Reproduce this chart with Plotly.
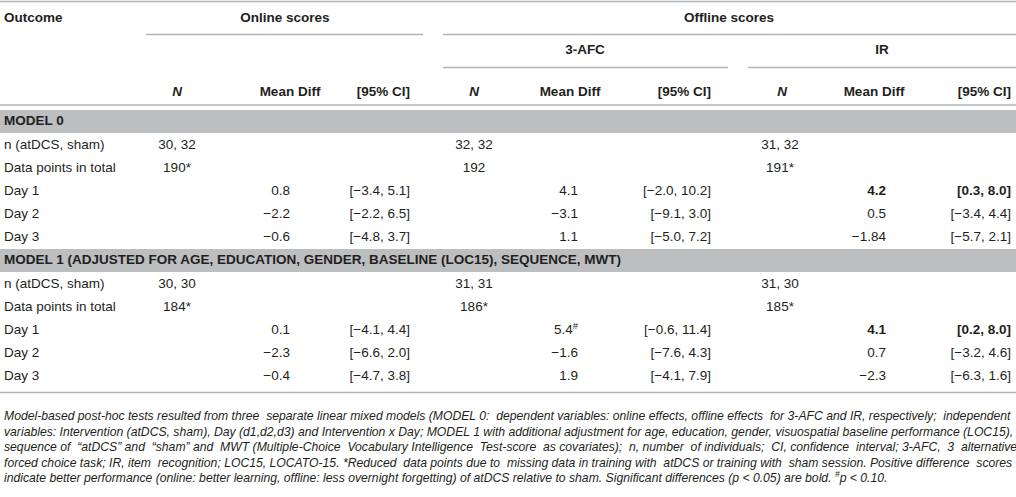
import plotly.graph_objects as go

# ---- table content -------------------------------------------------------
row_labels = ["n (atDCS, sham)", "Data points in total", "Day 1", "Day 2", "Day 3"]
model_titles = [
    "MODEL 0",
    "MODEL 1 (ADJUSTED FOR AGE, EDUCATION, GENDER, BASELINE (LOC15), SEQUENCE, MWT)",
]
group_titles = ["Online scores", "Offline scores"]
sub_titles = ["3-AFC", "IR"]
col_heads = ["<i>N</i>", "Mean Diff", "[95% CI]"] * 3

# MODEL 0
m0_online_n = ["30, 32", "190*", "", "", ""]
m0_online_diff = ["", "", "0.8", "−2.2", "−0.6"]
m0_online_ci = ["", "", "[−3.4, 5.1]", "[−2.2, 6.5]", "[−4.8, 3.7]"]
m0_afc_n = ["32, 32", "192", "", "", ""]
m0_afc_diff = ["", "", "4.1", "−3.1", "1.1"]
m0_afc_ci = ["", "", "[−2.0, 10.2]", "[−9.1, 3.0]", "[−5.0, 7.2]"]
m0_ir_n = ["31, 32", "191*", "", "", ""]
m0_ir_diff = ["", "", "4.2", "0.5", "−1.84"]
m0_ir_ci = ["", "", "[0.3, 8.0]", "[−3.4, 4.4]", "[−5.7, 2.1]"]

# MODEL 1
m1_online_n = ["30, 30", "184*", "", "", ""]
m1_online_diff = ["", "", "0.1", "−2.3", "−0.4"]
m1_online_ci = ["", "", "[−4.1, 4.4]", "[−6.6, 2.0]", "[−4.7, 3.8]"]
m1_afc_n = ["31, 31", "186*", "", "", ""]
m1_afc_diff = ["", "", "5.4<sup>#</sup>", "−1.6", "1.9"]
m1_afc_ci = ["", "", "[−0.6, 11.4]", "[−7.6, 4.3]", "[−4.1, 7.9]"]
m1_ir_n = ["31, 30", "185*", "", "", ""]
m1_ir_diff = ["", "", "4.1", "0.7", "−2.3"]
m1_ir_ci = ["", "", "[0.2, 8.0]", "[−3.2, 4.6]", "[−6.3, 1.6]"]

# significant (p < 0.05) cells are printed bold: (model, column, row)
bold_cells = {(0, 7, 2), (0, 8, 2), (1, 7, 2), (1, 8, 2)}

footnote = [
    "Model-based post-hoc tests resulted from three separate linear mixed models (MODEL 0: dependent variables: online effects, offline effects for 3-AFC and IR, respectively; independent",
    "variables: Intervention (atDCS, sham), Day (d1,d2,d3) and Intervention x Day; MODEL 1 with additional adjustment for age, education, gender, visuospatial baseline performance (LOC15),",
    "sequence of “atDCS” and “sham” and MWT (Multiple-Choice Vocabulary Intelligence Test-score as covariates); n, number of individuals; CI, confidence interval; 3-AFC, 3 alternative",
    "forced choice task; IR, item recognition; LOC15, LOCATO-15. *Reduced data points due to missing data in training with atDCS or training with sham session. Positive difference scores",
    "indicate better performance (online: better learning, offline: less overnight forgetting) of atDCS relative to sham. Significant differences (p < 0.05) are bold. <sup>#</sup>p < 0.10.",
]
# extra word gaps per footnote line, to mimic the justified paragraph
footnote_pad = [4, 0, 12, 6, 0]

models = [
    [m0_online_n, m0_online_diff, m0_online_ci, m0_afc_n, m0_afc_diff, m0_afc_ci,
     m0_ir_n, m0_ir_diff, m0_ir_ci],
    [m1_online_n, m1_online_diff, m1_online_ci, m1_afc_n, m1_afc_diff, m1_afc_ci,
     m1_ir_n, m1_ir_diff, m1_ir_ci],
]

# ---- layout geometry (pixels, y grows downward) --------------------------
W, H = 1016, 497
INK = "#231f20"
RULE = "#b1b3b6"
BAND = "#bcbec0"
FONT = "Liberation Sans, Arial, sans-serif"
FS = 13.5

# column anchors: N centred, diffs / CI right-aligned
col_x = [177, 290, 410, 474, 578, 711, 780, 886, 1011]
col_pos = ["middle center", "middle left", "middle left"] * 3
head_x = [177, 290, 410, 474, 570, 711, 782, 874, 1011]
head_pos = ["middle center", "middle center", "middle left"] * 3

band_y = [(110, 133), (249, 272)]
row_y = [[146, 169, 192, 215, 238], [285, 308, 331, 354, 377]]
note_y = [417, 432.5, 448, 463.5, 479]

fig = go.Figure()


def add_text(xs, ys, texts, pos, bold=False, italic=False, size=FS):
    keep = [(x, y, t) for x, y, t in zip(xs, ys, texts) if t]
    if not keep:
        return
    xs, ys, texts = zip(*keep)
    fmt = []
    for t in texts:
        if bold:
            t = "<b>" + t + "</b>"
        if italic:
            t = "<i>" + t + "</i>"
        fmt.append(t)
    fig.add_trace(go.Scatter(
        x=list(xs), y=list(ys), text=fmt, mode="text", textposition=pos,
        textfont=dict(family=FONT, size=size, color=INK),
        hoverinfo="skip", showlegend=False, cliponaxis=False,
    ))


def justify(line, extra):
    # widen `extra` of the word gaps, spread evenly along the line
    words = line.split(" ")
    gaps = len(words) - 1
    out = words[0]
    for i, w in enumerate(words[1:]):
        wide = extra and (i * extra // gaps) != ((i + 1) * extra // gaps)
        out += ("  " if wide else " ") + w
    return out


# header block
add_text([4], [19], ["Outcome"], "middle right", bold=True)
add_text([285, 729], [19, 19], group_titles, "middle center", bold=True)
add_text([585, 882], [51, 51], sub_titles, "middle center", bold=True)
for x, pos, txt in zip(head_x, head_pos, col_heads):
    add_text([x], [93], [txt], pos, bold=True)

# body blocks
for m, (cols, ys, (b0, b1)) in enumerate(zip(models, row_y, band_y)):
    fig.add_shape(type="rect", x0=0, x1=W, y0=b0, y1=b1,
                  fillcolor=BAND, line_width=0, layer="below")
    add_text([4], [(b0 + b1) / 2 + 0.5], [model_titles[m]], "middle right", bold=True)
    add_text([4] * len(row_labels), ys, row_labels, "middle right")
    for c, vals in enumerate(cols):
        plain = [v if (m, c, r) not in bold_cells else "" for r, v in enumerate(vals)]
        strong = [v if (m, c, r) in bold_cells else "" for r, v in enumerate(vals)]
        add_text([col_x[c]] * len(vals), ys, plain, col_pos[c])
        add_text([col_x[c]] * len(vals), ys, strong, col_pos[c], bold=True)

# footnote
notes = [justify(t, p) for t, p in zip(footnote, footnote_pad)]
add_text([4] * len(notes), note_y, notes, "middle right", italic=True, size=12.2)

# rules
rules = [
    (0, W, 1.5), (146, 423, 34.5), (443, W, 34.5),
    (443, 728, 67.5), (748, W, 67.5), (0, W, 105), (0, W, 392.5),
]
for x0, x1, y in rules:
    fig.add_shape(type="line", x0=x0, x1=x1, y0=y, y1=y,
                  line=dict(color=RULE, width=1.4))

fig.update_layout(
    width=W, height=H, margin=dict(l=0, r=0, t=0, b=0),
    paper_bgcolor="white", plot_bgcolor="white",
    xaxis=dict(range=[0, W], visible=False, fixedrange=True),
    yaxis=dict(range=[H, 0], visible=False, fixedrange=True),
)

fig.write_html(
    "out.html",
    config={"displayModeBar": False, "staticPlot": True},
    post_script="document.body.style.margin='0';document.body.style.overflow='hidden';",
)
